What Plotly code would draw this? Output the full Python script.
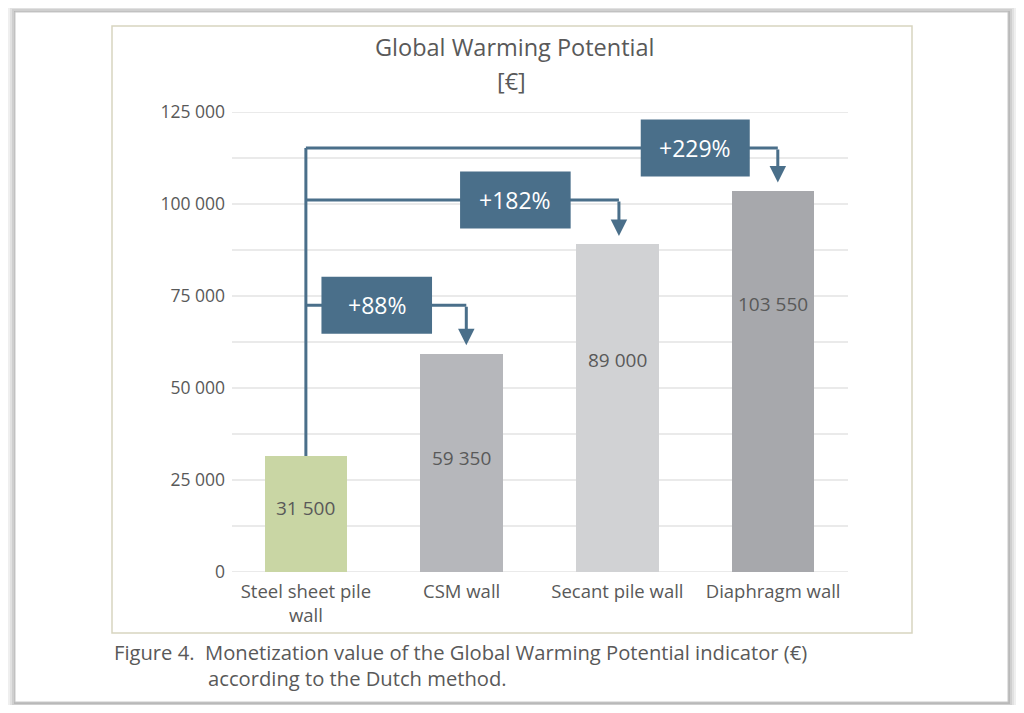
import plotly.graph_objects as go

# data
categories = ["Steel sheet pile<br>wall", "CSM wall", "Secant pile wall", "Diaphragm wall"]
values = [31500, 59350, 89000, 103550]
value_labels = ["31 500", "59 350", "89 000", "103 550"]
bar_colors = ["#c9d6a4", "#b6b7bb", "#d1d2d4", "#a7a8ac"]
pct_labels = ["+88%", "+182%", "+229%"]
y_ticks = [0, 25000, 50000, 75000, 100000, 125000]
y_ticktext = ["0", "25 000", "50 000", "75 000", "100 000", "125 000"]

# layout helpers (positions, not data)
label_heights = [17400, 31000, 57600, 72800]
link_levels = [72500, 101100, 115200]
arrow_x = [1.03, 2.01, 3.03]
box_x = [(0.10, 0.81), (0.99, 1.70), (2.15, 2.85)]
box_h = 15500
blue = "#4a6f8a"
grey_txt = "#595959"

# page has an 8px body margin; plot area in page pixels
PL, PR, PT, PB = 228, 851, 112, 572
OFF = 8
W, H = 1008, 697
pw, ph = PR - PL, PB - PT


def px(x):
    return (x - PL) / pw


def py(y):
    return (PB - y) / ph


xs = list(range(len(categories)))

fig = go.Figure()
fig.add_bar(x=xs, y=values, marker_color=bar_colors, width=0.53,
            marker_line_width=0, hoverinfo="skip")

shapes = []
annotations = []

# card shadow and card
for off, op in [(10, 0.04), (8, 0.06), (6, 0.09), (4, 0.13), (2, 0.18)]:
    shapes.append(dict(type="rect", xref="paper", yref="paper",
                       x0=px(15 - off + 1), x1=px(1008 + off),
                       y0=py(12 - off + 1), y1=py(702 + off),
                       fillcolor="#5a5a5a", opacity=op, line_width=0, layer="below"))
shapes.append(dict(type="rect", xref="paper", yref="paper",
                   x0=px(15), x1=px(1008), y0=py(12), y1=py(702),
                   fillcolor="white", line=dict(color="#c8c8c8", width=1), layer="below"))
# chart frame
shapes.append(dict(type="rect", xref="paper", yref="paper",
                   x0=px(112), x1=px(912), y0=py(26), y1=py(633),
                   fillcolor="rgba(0,0,0,0)", line=dict(color="#d8d5c0", width=1.5),
                   layer="below"))

# gridlines every 12 500
for g in range(0, 125001, 12500):
    shapes.append(dict(type="line", xref="paper", yref="y", x0=px(232), x1=px(848),
                       y0=g, y1=g, line=dict(color="#e3e3e3", width=1.5), layer="below"))

# vertical connector from the first bar
shapes.append(dict(type="line", x0=0, x1=0, y0=values[0], y1=max(link_levels),
                   line=dict(color=blue, width=3)))

for i, lvl in enumerate(link_levels):
    shapes.append(dict(type="line", x0=0, x1=arrow_x[i], y0=lvl, y1=lvl,
                       line=dict(color=blue, width=3)))
    bx0, bx1 = box_x[i]
    shapes.append(dict(type="rect", x0=bx0, x1=bx1,
                       y0=lvl - box_h / 2, y1=lvl + box_h / 2,
                       fillcolor=blue, line_width=0))
    annotations.append(dict(x=(bx0 + bx1) / 2, y=lvl, text=pct_labels[i],
                            showarrow=False, font=dict(color="white", size=23)))
    annotations.append(dict(x=arrow_x[i], y=values[i + 1] + 2300, ax=arrow_x[i], ay=lvl,
                            axref="x", ayref="y", xref="x", yref="y", text="",
                            showarrow=True, arrowhead=2, arrowsize=1.1, arrowwidth=3,
                            arrowcolor=blue))

for i in xs:
    annotations.append(dict(x=i, y=label_heights[i], text=value_labels[i],
                            showarrow=False, font=dict(color=grey_txt, size=19)))

# title
annotations.append(dict(xref="paper", yref="paper", x=px(515), y=py(47),
                        xanchor="center", yanchor="middle",
                        text="Global Warming Potential", showarrow=False,
                        font=dict(size=23.5, color=grey_txt)))
annotations.append(dict(xref="paper", yref="paper", x=px(511), y=py(81),
                        xanchor="center", yanchor="middle",
                        text="[€]", showarrow=False,
                        font=dict(size=23.5, color=grey_txt)))
# caption
annotations.append(dict(xref="paper", yref="paper", x=px(112), y=py(652),
                        xanchor="left", yanchor="middle", align="left",
                        text="Figure 4.  Monetization value of the Global Warming Potential indicator (€)",
                        showarrow=False, font=dict(size=20.2, color=grey_txt)))
annotations.append(dict(xref="paper", yref="paper", x=px(206), y=py(678),
                        xanchor="left", yanchor="middle", align="left",
                        text="according to the Dutch method.",
                        showarrow=False, font=dict(size=20.2, color=grey_txt)))

fig.update_layout(
    width=W, height=H,
    margin=dict(l=PL - OFF, r=W - (PR - OFF), t=PT - OFF, b=H - (PB - OFF)),
    paper_bgcolor="white", plot_bgcolor="rgba(0,0,0,0)",
    font=dict(family="Open Sans", color=grey_txt),
    showlegend=False,
    shapes=shapes, annotations=annotations,
    xaxis=dict(range=[-0.5, 3.5], tickvals=xs, ticktext=categories,
               tickfont=dict(size=18.5, color=grey_txt), showgrid=False,
               zeroline=False, showline=False, ticks="", ticklabelstandoff=6),
    yaxis=dict(range=[0, 125000], tickvals=y_ticks, ticktext=y_ticktext,
               tickfont=dict(size=17.5, color=grey_txt), showgrid=False,
               zeroline=False, ticks="", ticklabelstandoff=2),
    bargap=0,
)

fig.write_html("out.html")
